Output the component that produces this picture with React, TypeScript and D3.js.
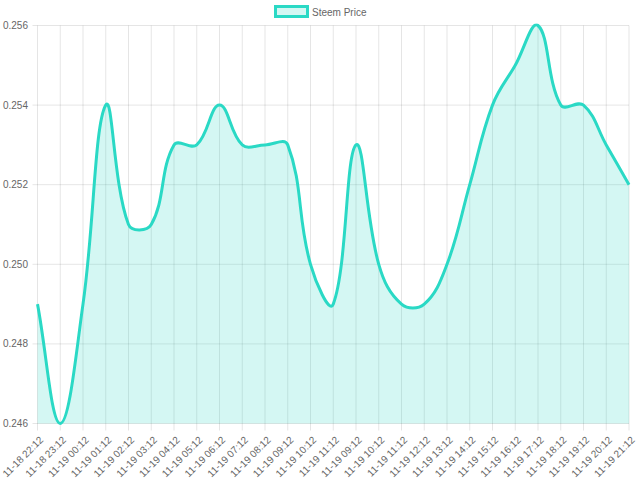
import React from "react";
import * as d3 from "d3";

const labels = [
  "11-18 22:12", "11-18 23:12", "11-19 00:12", "11-19 01:12", "11-19 02:12",
  "11-19 03:12", "11-19 04:12", "11-19 05:12", "11-19 06:12", "11-19 07:12",
  "11-19 08:12", "11-19 09:12", "11-19 10:12", "11-19 11:12", "11-19 09:12",
  "11-19 10:12", "11-19 11:12", "11-19 12:12", "11-19 13:12", "11-19 14:12",
  "11-19 15:12", "11-19 16:12", "11-19 17:12", "11-19 18:12", "11-19 19:12",
  "11-19 20:12", "11-19 21:12",
];
const prices = [
  0.249, 0.246, 0.249, 0.254, 0.251, 0.251, 0.253, 0.253, 0.254, 0.253,
  0.253, 0.253, 0.25, 0.249, 0.253, 0.25, 0.249, 0.249, 0.25, 0.252,
  0.254, 0.255, 0.256, 0.254, 0.254, 0.253, 0.252,
];
const yTicks = [0.246, 0.248, 0.25, 0.252, 0.254, 0.256];
const seriesName = "Steem Price";

const W = 640, H = 480;
const left = 37.5, right = 629, top = 25.5, bottom = 423.5;
const LINE = "rgb(42,217,197)";
const FILL = "rgba(42,217,197,0.2)";
const FONT = "Arial, 'Liberation Sans', Helvetica, sans-serif";
const FS = 10;

function chartJsCurve(tension: number) {
  return function (context: any) {
    let pts: number[][] = [];
    return {
      areaStart() {},
      areaEnd() {},
      lineStart() { pts = []; },
      point(x: number, y: number) { pts.push([+x, +y]); },
      lineEnd() {
        const n = pts.length;
        if (!n) return;
        const cps = pts.map((cur, i) => {
          const prev = i > 0 ? pts[i - 1] : cur;
          const next = i < n - 1 ? pts[i + 1] : cur;
          const d01 = Math.hypot(cur[0] - prev[0], cur[1] - prev[1]);
          const d12 = Math.hypot(next[0] - cur[0], next[1] - cur[1]);
          let s01 = d01 / (d01 + d12);
          let s12 = d12 / (d01 + d12);
          if (!isFinite(s01)) s01 = 0;
          if (!isFinite(s12)) s12 = 0;
          const fa = tension * s01, fb = tension * s12;
          return {
            p: [cur[0] - fa * (next[0] - prev[0]), cur[1] - fa * (next[1] - prev[1])],
            n: [cur[0] + fb * (next[0] - prev[0]), cur[1] + fb * (next[1] - prev[1])],
          };
        });
        context.moveTo(pts[0][0], pts[0][1]);
        for (let i = 1; i < n; i++) {
          context.bezierCurveTo(cps[i - 1].n[0], cps[i - 1].n[1], cps[i].p[0], cps[i].p[1], pts[i][0], pts[i][1]);
        }
      },
    };
  } as any;
}

export default function App() {
  const x = d3.scalePoint<number>().domain(d3.range(labels.length)).range([left, right]);
  const y = d3.scaleLinear().domain([0.246, 0.256]).range([bottom, top]);
  const line = d3
    .line<number>()
    .x((_, i) => x(i)!)
    .y((d) => y(d))
    .curve(chartJsCurve(0.4));
  const linePath = line(prices) || "";
  const areaPath = `${linePath}L${x(prices.length - 1)},${bottom}L${x(0)},${bottom}Z`;

  return (
    <svg width={W} height={H} style={{ position: "absolute", left: 0, top: 0, background: "#fff" }}>
      <defs>
        <clipPath id="plotClip">
          <rect x={left - 2} y={top - 2} width={right - left + 4} height={bottom - top + 4} />
        </clipPath>
      </defs>
      {yTicks.map((t) => (
        <line key={"gy" + t} x1={left - 5} x2={right} y1={y(t)} y2={y(t)} stroke="rgba(0,0,0,0.1)" strokeWidth={1} />
      ))}
      {labels.map((_, i) => (
        <line key={"gx" + i} x1={x(i)} x2={x(i)} y1={top} y2={bottom + 7} stroke="rgba(0,0,0,0.1)" strokeWidth={1} />
      ))}
      {yTicks.map((t) => (
        <text key={"ty" + t} x={28} y={y(t)} dy="0.35em" textAnchor="end" fontFamily={FONT} fontSize={FS} fill="#666">
          {d3.format(".3f")(t)}
        </text>
      ))}
      {labels.map((l, i) => (
        <text
          key={"tx" + i}
          transform={`translate(${x(i)! + 4},${bottom + 14.5}) rotate(-45)`}
          textAnchor="end"
          dy="0.35em"
          fontFamily={FONT}
          fontSize={FS}
          fill="#666"
        >
          {l}
        </text>
      ))}
      <g clipPath="url(#plotClip)">
        <path d={areaPath} fill={FILL} stroke="none" />
        <path d={linePath} fill="none" stroke={LINE} strokeWidth={3} />
      </g>
      <rect x={275.5} y={6.5} width={32} height={10} fill={FILL} stroke={LINE} strokeWidth={3} />
      <text x={312} y={15.5} fontFamily={FONT} fontSize={FS} fill="#666">{seriesName}</text>
    </svg>
  );
}
